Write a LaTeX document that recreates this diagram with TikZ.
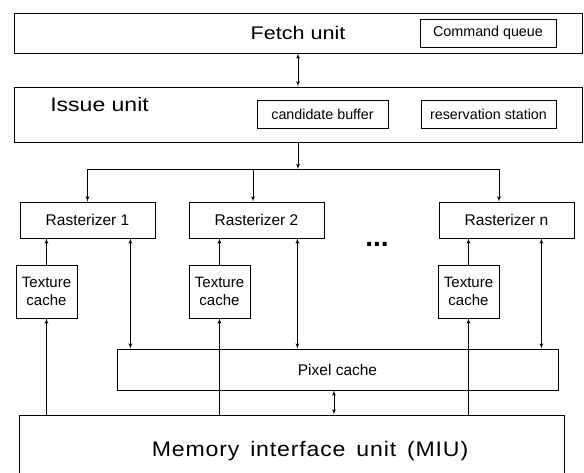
\documentclass[tikz,border=0pt]{standalone}
\usepackage{fontspec}
\setmainfont{Liberation Sans}
\newfontfamily\widefont[FakeStretch=1.18]{Liberation Sans}
\newfontfamily\miufont[FakeStretch=1.1,LetterSpace=4,WordSpace=1.5]{Liberation Sans}
\usepackage{tikz}
\usetikzlibrary{shapes,arrows}
\tikzstyle{unit} = [rectangle, draw, inner sep=0pt, minimum width=568pt, minimum height=40pt,
    font=\widefont\fontsize{18.3}{22}\selectfont]
\tikzstyle{smallblock} = [rectangle, draw, inner sep=0pt, minimum height=28pt, font=\fontsize{14.3}{17}\selectfont]
\tikzstyle{block} = [rectangle, draw, inner sep=0pt, minimum width=135pt, minimum height=36pt, font=\fontsize{15.5}{18}\selectfont]
\tikzstyle{cache} = [rectangle, draw, inner sep=0pt, minimum width=61pt, minimum height=53pt,
    align=center, font=\fontsize{15}{18}\selectfont]
\tikzstyle{line} = [draw, -latex']
\tikzstyle{dline} = [draw, latex'-latex']

\begin{document}
\begin{tikzpicture}[line width=0.8pt, node distance=80pt]
    \useasboundingbox (0,0) rectangle (584pt,-473pt);
    % Place nodes
    \node [unit] (fetch) at (298pt,-33pt) {Fetch unit};
    \node [smallblock, minimum width=136pt, right of=fetch, node distance=190pt] (cmdq) {Command queue};
    \node [unit, minimum height=55pt, below of=fetch, node distance=81.5pt] (issue) {};
    \node [anchor=west, font=\widefont\fontsize{19.5}{23}\selectfont] (issuelabel)
        at ([xshift=33pt,yshift=9.5pt]issue.west) {Issue unit};
    \node [smallblock, minimum width=131pt, right of=issue, node distance=24.5pt] (cand) {candidate buffer};
    \node [smallblock, minimum width=135pt, right of=cand, node distance=166pt] (resv) {reservation station};
    \node [block] (r1) at (87.5pt,-220pt) {Rasterizer 1};
    \node [block, right of=r1, node distance=169pt] (r2) {Rasterizer 2};
    \node [block, right of=r2, node distance=250pt] (rn) {Rasterizer n};
    \node [font=\bfseries\fontsize{28}{30}\selectfont] (dots) at (377pt,-244pt) {...};
    \node [cache, below of=r1, node distance=71.5pt, xshift=-41pt] (tc1) {Texture\\cache};
    \node [cache, below of=r2, node distance=71.5pt, xshift=-37pt] (tc2) {Texture\\cache};
    \node [cache, below of=rn, node distance=71.5pt, xshift=-38pt] (tcn) {Texture\\cache};
    \node [block, minimum width=441pt, minimum height=41pt] (pixel) at (337.5pt,-369.5pt) {Pixel cache};
    \node [draw, rectangle, minimum width=545pt, minimum height=72pt] (miu) at (291.5pt,-451pt) {};
    \node [font=\miufont\fontsize{21}{25}\selectfont] (miulabel) at ([xshift=18.5pt]miu.center)
        {Memory interface unit (MIU)};
    % Bus points
    \coordinate [below of=issue, node distance=54.5pt] (bus);
    \coordinate (b1) at (r1.north |- bus);
    \coordinate (b2) at ([xshift=-3.5pt]r2.north |- bus);
    \coordinate (bn) at ([xshift=-7.5pt]rn.north |- bus);
    \coordinate (d1) at ([xshift=-25pt]r1.south east);
    \coordinate (d2) at ([xshift=-27pt]r2.south east);
    \coordinate (dn) at ([xshift=-33pt]rn.south east);
    \coordinate (dm) at ([xshift=-3.5pt]pixel.south);
    % Draw edges
    \path [dline] (fetch.south) -- (issue.north);
    \path [line] (issue.south) -- (bus);
    \draw (b1) -- (bn);
    \path [line] (b1) -- (r1.north);
    \path [line] (b2) -- (b2 |- r2.north);
    \path [line] (bn) -- (bn |- rn.north);
    \path [line] (tc1.north) -- (tc1.north |- r1.south);
    \path [line] (tc2.north) -- (tc2.north |- r2.south);
    \path [line] (tcn.north) -- (tcn.north |- rn.south);
    \path [line] (tc1.south |- miu.north) -- (tc1.south);
    \path [line] (tc2.south |- miu.north) -- (tc2.south);
    \path [line] (tcn.south |- miu.north) -- (tcn.south);
    \path [dline] (d1) -- (d1 |- pixel.north);
    \path [dline] (d2) -- (d2 |- pixel.north);
    \path [dline] (dn) -- (dn |- pixel.north);
    \path [dline] (dm) -- (dm |- miu.north);
\end{tikzpicture}
\end{document}
